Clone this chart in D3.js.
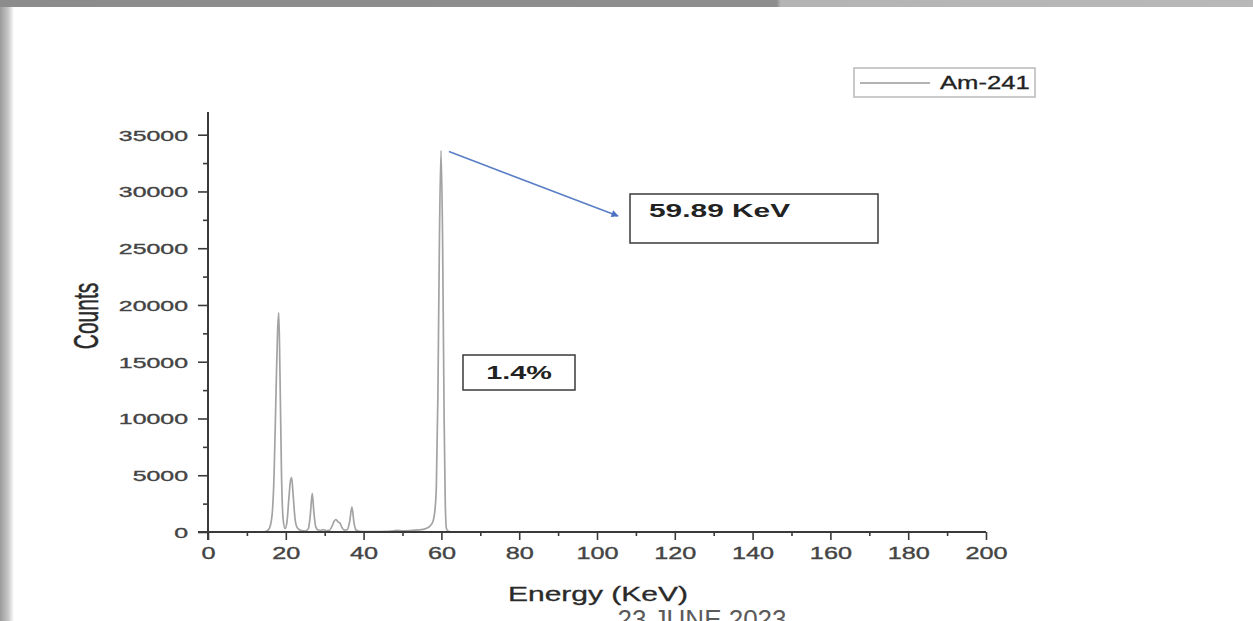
<!DOCTYPE html>
<html>
<head>
<meta charset="utf-8">
<script src="https://cdn.jsdelivr.net/npm/d3@7"></script>
<style>
  html, body { margin: 0; padding: 0; background: #fff; }
  svg { display: block; }
  text { font-family: Arial, "Liberation Sans", sans-serif; }
</style>
</head>
<body>
<svg id="chart" width="1253" height="621"></svg>
<script>
// Am-241 gamma spectrum (energy in keV, counts per channel)
const energyKeV = [
  0, 14, 15, 15.8, 16.5, 17.0, 17.5, 17.9, 18.2, 18.5, 18.9, 19.3, 19.8,
  20.3, 20.8, 21.2, 21.5, 21.9, 22.4, 23.0, 24.0, 25.0, 25.8, 26.3, 26.8,
  27.2, 27.7, 28.3, 29.0, 29.6, 30.3, 31.2, 32.0, 32.5, 32.9, 33.4, 33.9,
  34.4, 35.0, 35.8, 36.4, 37.0, 37.5, 38.0, 39.0, 41.0, 44.0, 47.0, 48.6,
  50.0, 52.0, 54.0, 56.0, 57.0, 57.8, 58.3, 58.7, 59.1, 59.5, 59.9, 60.3,
  60.7, 61.0, 61.3, 61.8, 63.0, 70.0
];
const counts = [
  0, 0, 60, 350, 1600, 5200, 12500, 17800, 19300, 14000, 5000, 1200, 300,
  900, 3000, 4500, 4800, 3200, 1100, 350, 120, 90, 300, 1500, 3400,
  1800, 450, 180, 150, 220, 120, 150, 600, 1000, 1100, 900, 800,
  420, 160, 200, 900, 2200, 900, 200, 60, 30, 40, 80, 150,
  100, 130, 180, 300, 500, 900, 1800, 4000, 12000, 26000, 33600, 26000,
  10000, 2500, 300, 50, 0, 0
];

const seriesName = "Am-241";
const peakLabel = "59.89 KeV";
const resolutionLabel = "1.4%";
const xTickValues = [0, 20, 40, 60, 80, 100, 120, 140, 160, 180, 200];
const xMinorValues = [10, 30, 50, 70, 90, 110, 130, 150, 170, 190];
const yTickValues = [0, 5000, 10000, 15000, 20000, 25000, 30000, 35000];
const yMinorValues = [2500, 7500, 12500, 17500, 22500, 27500, 32500];
const xTitle = "Energy (KeV)";
const yTitle = "Counts";
const footerText = "23 JUNE 2023";

const svg = d3.select("#chart");
const W = 1253, H = 621;

// ---- slide frame: grey edge band and left shadow ----
const defs = svg.append("defs");
const gTop = defs.append("linearGradient").attr("id", "topBand").attr("x1", 0).attr("x2", 1);
gTop.append("stop").attr("offset", 0).attr("stop-color", "#8c8c8c");
gTop.append("stop").attr("offset", 0.62).attr("stop-color", "#8e8e8e");
gTop.append("stop").attr("offset", 0.623).attr("stop-color", "#b4b4b4");
gTop.append("stop").attr("offset", 1).attr("stop-color", "#b8b8b8");
const gLeft = defs.append("linearGradient").attr("id", "leftBand").attr("x1", 0).attr("x2", 1);
gLeft.append("stop").attr("offset", 0).attr("stop-color", "#9a9a9a");
gLeft.append("stop").attr("offset", 0.6).attr("stop-color", "#c8c8c8");
gLeft.append("stop").attr("offset", 1).attr("stop-color", "#ffffff");
const arrowHead = defs.append("marker").attr("id", "arrowHead")
  .attr("viewBox", "0 0 10 10").attr("refX", 9).attr("refY", 5)
  .attr("markerWidth", 5).attr("markerHeight", 4.5).attr("orient", "auto")
  .attr("markerUnits", "strokeWidth");
arrowHead.append("path").attr("d", "M0,0 L10,5 L0,10 z").attr("fill", "#4a72c0");

svg.append("rect").attr("x", 0).attr("y", 0).attr("width", W).attr("height", H).attr("fill", "#fff");
svg.append("rect").attr("x", 0).attr("y", 6).attr("width", 14).attr("height", H - 6).attr("fill", "url(#leftBand)");
svg.append("rect").attr("x", 0).attr("y", 0).attr("width", W).attr("height", 7).attr("fill", "url(#topBand)");

// ---- scales ----
const x = d3.scaleLinear().domain([0, 200]).range([208, 986]);
const y = d3.scaleLinear().domain([0, 37000]).range([532, 112]);

const axisColor = "#3a3a3a";
const labelColor = "#444";
const stretch = 1.66;   // wide glyph aspect used for all chart lettering

// ---- spectrum line ----
const pts = energyKeV.map((e, i) => [e, counts[i]]);
const line = d3.line().x(d => x(d[0])).y(d => y(d[1])).curve(d3.curveMonotoneX);
svg.append("path").datum(pts)
  .attr("d", line)
  .attr("fill", "none")
  .attr("stroke", "#a3a3a3")
  .attr("stroke-width", 1.7)
  .attr("stroke-linejoin", "round");

// ---- axes ----
const yAxis = svg.append("g").attr("transform", `translate(${x(0)},0)`)
  .call(d3.axisLeft(y).tickValues(yTickValues).tickSize(10).tickSizeOuter(0).tickPadding(0)
    .tickFormat(d3.format("d")));
yAxis.select(".domain").remove();
yAxis.selectAll(".tick line").attr("stroke", axisColor).attr("stroke-width", 1.6);
yAxis.selectAll(".tick text")
  .attr("x", -20 / stretch).attr("dy", "0.36em")
  .attr("transform", `scale(${stretch},1)`)
  .attr("font-size", 15).attr("fill", labelColor)
  .attr("stroke", labelColor).attr("stroke-width", 0.35);
svg.append("g").attr("transform", `translate(${x(0)},0)`)
  .call(d3.axisLeft(y).tickValues(yMinorValues).tickSize(5).tickFormat(""))
  .call(g => g.select(".domain").remove())
  .selectAll(".tick line").attr("stroke", axisColor).attr("stroke-width", 1.6);

const xAxis = svg.append("g").attr("transform", `translate(0,${y(0)})`)
  .call(d3.axisBottom(x).tickValues(xTickValues).tickSize(8).tickSizeOuter(0).tickPadding(8)
    .tickFormat(d3.format("d")));
xAxis.select(".domain").remove();
xAxis.selectAll(".tick line").attr("stroke", axisColor).attr("stroke-width", 1.6);
xAxis.selectAll(".tick text")
  .attr("transform", `scale(${stretch * 0.95},1)`)
  .attr("font-size", 16).attr("fill", labelColor)
  .attr("stroke", labelColor).attr("stroke-width", 0.35);
svg.append("g").attr("transform", `translate(0,${y(0)})`)
  .call(d3.axisBottom(x).tickValues(xMinorValues).tickSize(4).tickFormat(""))
  .call(g => g.select(".domain").remove())
  .selectAll(".tick line").attr("stroke", axisColor).attr("stroke-width", 1.6);

// axis lines (y line runs a little below the origin, x line a little left of it)
svg.append("line").attr("x1", x(0)).attr("x2", x(0)).attr("y1", y(0) + 8).attr("y2", y(37000))
  .attr("stroke", axisColor).attr("stroke-width", 2);
svg.append("line").attr("x1", x(0) - 10).attr("x2", x(200)).attr("y1", y(0)).attr("y2", y(0))
  .attr("stroke", axisColor).attr("stroke-width", 2);

// ---- axis titles ----
svg.append("g").attr("transform", `translate(598,601) scale(1.5,1)`)
  .append("text").attr("text-anchor", "middle")
  .attr("font-size", 20).attr("fill", "#2a2a2a")
  .attr("stroke", "#2a2a2a").attr("stroke-width", 0.3).text(xTitle);
svg.append("g").attr("transform", `translate(98,316) scale(${stretch},1) rotate(-90)`)
  .append("text").attr("text-anchor", "middle")
  .attr("font-size", 21).attr("fill", "#2a2a2a")
  .attr("stroke", "#2a2a2a").attr("stroke-width", 0.3).text(yTitle);

// ---- legend ----
svg.append("rect").attr("x", 854).attr("y", 68).attr("width", 181).attr("height", 29)
  .attr("fill", "#fff").attr("stroke", "#b9b9b9").attr("stroke-width", 1.5);
svg.append("line").attr("x1", 860).attr("x2", 930).attr("y1", 83).attr("y2", 83)
  .attr("stroke", "#9a9a9a").attr("stroke-width", 1.3);
svg.append("g").attr("transform", `translate(940,89) scale(1.35,1)`)
  .append("text").attr("font-size", 19).attr("fill", "#222")
  .attr("stroke", "#222").attr("stroke-width", 0.3).text(seriesName);

// ---- peak annotation ----
const peakE = 59.89;
const peakC = d3.max(counts);
svg.append("line")
  .attr("x1", x(peakE) + 8).attr("y1", y(peakC) + 1)
  .attr("x2", 618).attr("y2", 216)
  .attr("stroke", "#5b7fc7").attr("stroke-width", 1.6)
  .attr("marker-end", "url(#arrowHead)");
svg.append("rect").attr("x", 630).attr("y", 194).attr("width", 248).attr("height", 49)
  .attr("fill", "#fff").attr("stroke", "#3a3a3a").attr("stroke-width", 1.5);
svg.append("g").attr("transform", `translate(649,217) scale(${stretch},1)`)
  .append("text").attr("font-size", 18).attr("font-weight", "bold").attr("fill", "#222").text(peakLabel);

svg.append("rect").attr("x", 463).attr("y", 355).attr("width", 112).attr("height", 35)
  .attr("fill", "#fff").attr("stroke", "#3a3a3a").attr("stroke-width", 1.5);
svg.append("g").attr("transform", `translate(519,379) scale(1.6,1)`)
  .append("text").attr("text-anchor", "middle")
  .attr("font-size", 18).attr("font-weight", "bold").attr("fill", "#222").text(resolutionLabel);

// ---- slide footer (runs off the bottom edge of the slide) ----
svg.append("text").attr("x", 702).attr("y", 628).attr("text-anchor", "middle")
  .attr("font-family", "'Open Sans', sans-serif").attr("font-size", 26)
  .attr("fill", "#5a5a5a").text(footerText);
</script>
</body>
</html>
